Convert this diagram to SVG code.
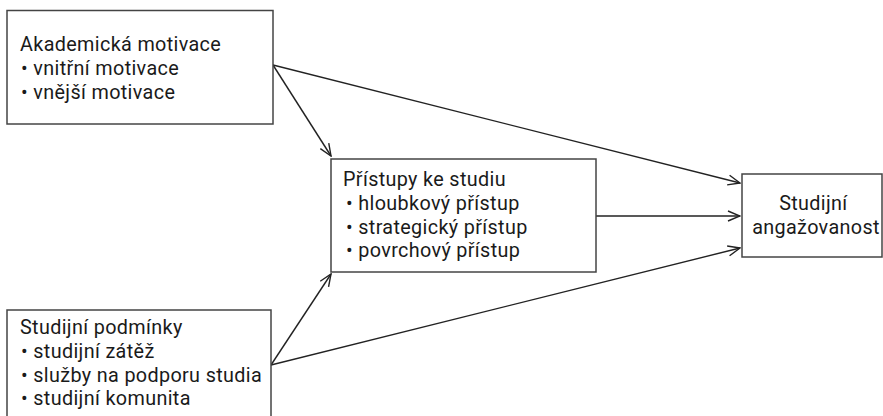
<svg xmlns="http://www.w3.org/2000/svg" width="883" height="416" viewBox="0 0 883 416">
  <style>
    .box { fill: #ffffff; stroke: #444444; stroke-width: 1.5; }
    .txt { font-family: Roboto, "Open Sans", "DejaVu Sans", sans-serif; font-size: 19.8px; letter-spacing: 0.35px; fill: #1a1a1a; }
    .mid { text-anchor: middle; }
    .link { fill: none; stroke: #222222; stroke-width: 1.4; marker-end: url(#open-arrow); }
  </style>
  <defs>
    <marker id="open-arrow" viewBox="0 0 14 12" refX="13" refY="6" markerWidth="14" markerHeight="12" markerUnits="userSpaceOnUse" orient="auto">
      <path d="M1,1 L13,6 L1,11" fill="none" stroke="#222222" stroke-width="1.4"/>
    </marker>
  </defs>

  <rect width="883" height="416" fill="#ffffff"/>

  <g id="connectors">
    <line class="link" x1="273" y1="65" x2="740" y2="183"/>
    <line class="link" x1="273" y1="65" x2="331" y2="156"/>
    <line class="link" x1="596" y1="216" x2="740" y2="216"/>
    <line class="link" x1="271" y1="365" x2="331" y2="274"/>
    <line class="link" x1="271" y1="365" x2="740" y2="248"/>
  </g>

  <g id="akademicka-motivace">
    <rect class="box" x="7" y="10.5" width="266" height="113.5"/>
    <text class="txt">
      <tspan x="20" y="51">Akademická motivace</tspan>
      <tspan x="21" y="75">• vnitřní motivace</tspan>
      <tspan x="21" y="98.5">• vnější motivace</tspan>
    </text>
  </g>

  <g id="studijni-podminky">
    <rect class="box" x="7" y="310" width="264" height="120"/>
    <text class="txt">
      <tspan x="20" y="334">Studijní podmínky</tspan>
      <tspan x="21" y="358">• studijní zátěž</tspan>
      <tspan x="21" y="381.5">• služby na podporu studia</tspan>
      <tspan x="21" y="405">• studijní komunita</tspan>
    </text>
  </g>

  <g id="pristupy-ke-studiu">
    <rect class="box" x="331" y="159" width="265" height="113"/>
    <text class="txt">
      <tspan x="343" y="186">Přístupy ke studiu</tspan>
      <tspan x="346" y="210">• hloubkový přístup</tspan>
      <tspan x="346" y="233.5">• strategický přístup</tspan>
      <tspan x="346" y="257">• povrchový přístup</tspan>
    </text>
  </g>

  <g id="studijni-angazovanost">
    <rect class="box" x="742" y="174" width="140" height="83"/>
    <text class="txt mid">
      <tspan x="816" y="210">Studijní</tspan>
      <tspan x="816" y="233.5">angažovanost</tspan>
    </text>
  </g>
</svg>
